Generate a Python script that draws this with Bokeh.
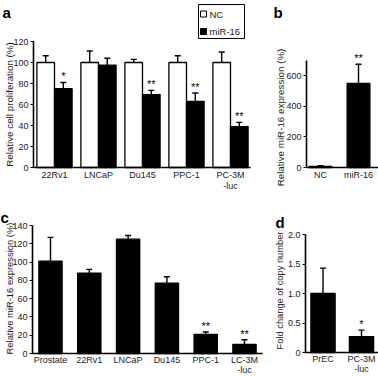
import math
from bokeh.plotting import figure
from bokeh.models import (FixedTicker, Range1d, Label, Whisker, ColumnDataSource, TeeHead)
from bokeh.layouts import column, row
from bokeh.embed import file_html
from bokeh.resources import INLINE
from bokeh.core.properties import value

FONT = "Liberation Sans"
TICK_FS = "9px"

# ---------------- data ----------------
# panel a : relative cell proliferation (%)
a_cells = ["22Rv1", "LNCaP", "Du145", "PPC-1", "PC-3M\n-luc"]
a_series = ["NC", "miR-16"]
a_nc = [100, 100, 100, 100, 100]
a_nc_err = [6.5, 11, 3, 6.5, 10]
a_mir = [75, 97.5, 69.5, 63, 39]
a_mir_err = [6, 6.5, 4, 8, 4]
a_sig = ["*", "", "**", "**", "**"]
a_ticks = [0, 20, 40, 60, 80, 100, 120]

# panel b : relative miR-16 expression (%)
b_groups = ["NC", "miR-16"]
b_vals = [8, 550]
b_err = [4, 125]
b_sig = ["", "**"]
b_ticks = [0, 200, 400, 600]

# panel c : relative miR-16 expression (%)
c_cells = ["Prostate", "22Rv1", "LNCaP", "Du145", "PPC-1", "LC-3M\n-luc"]
c_vals = [101, 88, 125, 77, 21, 10]
c_err = [26, 4, 4, 7, 2.5, 5]
c_sig = ["", "", "", "", "**", "**"]
c_ticks = [0, 20, 40, 60, 80, 100, 120, 140]

# panel d : fold change of copy number
d_groups = ["PrEC", "PC-3M\n-luc"]
d_vals = [1.0, 0.27]
d_err = [0.43, 0.11]
d_sig = ["", "*"]
d_ticks = [0, 0.5, 1.0, 1.5, 2.0]
d_tick_labels = ["0", "0.5", "1.0", "1.5", "2.0"]


def key(t):
    return int(t) if float(t).is_integer() else t


class Panel:
    """A figure whose frame covers the whole canvas; axes are placed at fixed data spots."""

    def __init__(self, x0, y0, w, h, cx0, xsp, sy0, ypx, axis_sx, axis_end_sx,
                 xlabels, yticks, ylabels, ymax, xlab_lh=1.1, xlab_standoff=2):
        self.cx0, self.xsp, self.sy0, self.ypx = cx0, xsp, sy0, ypx
        p = figure(width=w, height=h,
                   x_range=Range1d(self.X(x0), self.X(x0 + w)),
                   y_range=Range1d(self.Y(y0 + h), self.Y(y0)),
                   output_backend="svg", toolbar_location=None,
                   min_border=0, min_border_left=0, min_border_right=0,
                   min_border_top=0, min_border_bottom=0,
                   background_fill_color="white", border_fill_color="white",
                   outline_line_color=None)
        p.xgrid.visible = False
        p.ygrid.visible = False
        ax_x = self.X(axis_sx)
        xa = p.xaxis[0]
        xa.fixed_location = 0
        xa.ticker = FixedTicker(ticks=list(range(len(xlabels))))
        xa.major_label_overrides = {i: s for i, s in enumerate(xlabels)}
        xa.major_tick_line_color = None
        xa.major_tick_out = 0
        xa.major_tick_in = 0
        xa.minor_tick_line_color = None
        xa.major_label_standoff = xlab_standoff
        xa.major_label_text_line_height = xlab_lh
        xa.bounds = (ax_x, self.X(axis_end_sx))
        ya = p.yaxis[0]
        ya.fixed_location = ax_x
        ya.ticker = FixedTicker(ticks=list(yticks))
        ya.major_label_overrides = {key(t): s for t, s in zip(yticks, ylabels)}
        ya.major_tick_out = 3
        ya.major_tick_in = 0
        ya.major_tick_line_width = 1.2
        ya.minor_tick_line_color = None
        ya.major_label_standoff = 2
        ya.bounds = (0, ymax)
        for ax in (xa, ya):
            ax.axis_line_width = 1.6
            ax.axis_line_color = "black"
            ax.major_label_text_font = FONT
            ax.major_label_text_font_size = TICK_FS
            ax.major_label_text_color = "#1a1a1a"
        self.p = p

    def X(self, sx):
        return (sx - self.cx0) / self.xsp

    def Y(self, sy):
        return (self.sy0 - sy) / self.ypx

    def bars(self, xs, vals, errs, sig, width, fill, cap=6):
        p = self.p
        src = ColumnDataSource(dict(x=xs, top=vals,
                                    upper=[v + e for v, e in zip(vals, errs)], sig=sig))
        p.add_layout(Whisker(source=src, base="x", lower="top", upper="upper",
                             dimension="height", line_color="black", line_width=1.4,
                             upper_head=TeeHead(size=cap, line_width=1.4, line_color="black"),
                             lower_head=None))
        r = p.vbar(x="x", top="top", bottom=0, width=width, source=src, fill_color=fill,
                   line_color="black", line_width=1.3)
        p.text(x="x", y="upper", text="sig", source=src, text_align="center",
               text_baseline="bottom", text_font=value(FONT), text_font_size="11px",
               text_color="black")
        return r

    def letter(self, txt, sx, sy):
        self.p.add_layout(Label(x=self.X(sx), y=self.Y(sy), text=txt,
                                text_font=FONT, text_font_size="15px",
                                text_font_style="bold", text_align="left",
                                text_baseline="alphabetic", text_color="black"))

    def ylab(self, txt, sx, sy, fs):
        self.p.add_layout(Label(x=self.X(sx), y=self.Y(sy), text=txt, angle=math.pi / 2,
                                text_font=FONT, text_font_size=fs, text_align="center",
                                text_baseline="middle", text_color="#1a1a1a"))


# ---------------- panel a ----------------
A = Panel(0, 0, 270, 190, 54, 44, 167, 1.05, 33, 250, a_cells, a_ticks,
          [str(t) for t in a_ticks], 120)
idx = list(range(len(a_cells)))
A.bars([i - 0.2 for i in idx], a_nc, a_nc_err, [""] * len(idx), 0.4, "white")
A.bars([i + 0.2 for i in idx], a_mir, a_mir_err, a_sig, 0.4, "black")
# legend box
A.p.quad(left=A.X(198), right=A.X(244), bottom=A.Y(38), top=A.Y(4),
         fill_color="white", line_color="black", line_width=1)
A.p.scatter(x=[A.X(203)] * 2, y=[A.Y(13.5), A.Y(31)], marker="square", size=6,
            fill_color=["white", "black"], line_color="black", line_width=1)
A.p.text(x=[A.X(209)] * 2, y=[A.Y(13.5), A.Y(31)], text=a_series, text_align="left",
         text_baseline="middle", text_font=value(FONT), text_font_size="9.5px",
         text_color="#1a1a1a")
A.letter("a", 2, 12)
A.ylab("Relative cell proliferation (%)", 8.5, 104, "9.8px")

# ---------------- panel b ----------------
B = Panel(270, 0, 108, 190, 320, 38, 167, 107 / 700, 306, 378, b_groups, b_ticks,
          [str(t) for t in b_ticks], 700)
B.bars([0, 1], b_vals, b_err, b_sig, 0.6, "black")
B.letter("b", 273, 12)
B.ylab("Relative miR-16 expression (%)", 279.5, 117, "9.8px")

# ---------------- panel c ----------------
C = Panel(0, 190, 268, 186, 50, 38.8, 353, 128 / 140, 32, 262, c_cells, c_ticks,
          [str(t) for t in c_ticks], 140, xlab_lh=1.0, xlab_standoff=1)
C.bars(list(range(len(c_cells))), c_vals, c_err, c_sig, 0.6, "black")
C.letter("c", 0, 217)
C.ylab("Relative miR-16 expression (%)", 8.5, 288, "9.4px")

# ---------------- panel d ----------------
D = Panel(268, 190, 110, 186, 322.5, 38.5, 352, 59, 305, 378, d_groups, d_ticks,
          d_tick_labels, 2, xlab_lh=1.0, xlab_standoff=1)
D.bars([0, 1], d_vals, d_err, d_sig, 0.63, "black")
D.letter("d", 275, 222)
D.ylab("Fold change of copy number", 279.5, 290, "9.3px")

layout = column(row(A.p, B.p), row(C.p, D.p))
open("out.html", "w").write(file_html(layout, INLINE))
